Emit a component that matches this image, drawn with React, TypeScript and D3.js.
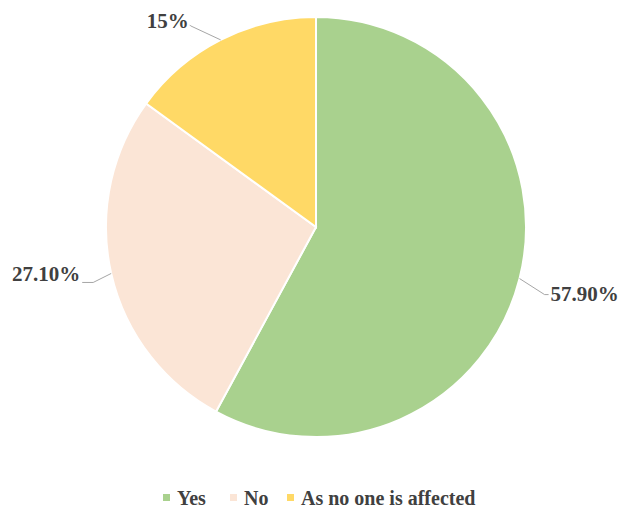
import React from "react";
import * as d3 from "d3";

const categories = ["Yes", "No", "As no one is affected"];
const values = [57.9, 27.1, 15];
const labels = ["57.90%", "27.10%", "15%"];
const colors = ["#A9D18E", "#FBE5D6", "#FFD966"];

const W = 627;
const H = 508;
const cx = 316;
const cy = 227;
const R = 210;

export default function App() {
  const pie = d3.pie<number>().sort(null).value((d) => d)(values);
  const arc = d3.arc<d3.PieArcDatum<number>>().innerRadius(0).outerRadius(R);
  const font = "'Liberation Serif', 'Times New Roman', serif";

  const layouts = [
    { elbow: [25, 16], end: [29, 16], anchor: "start", tx: 31, ty: 22 },
    { elbow: [-18, 9], end: [-29, 9], anchor: "end", tx: -31, ty: 8 },
    { elbow: [-30, -14], end: [-31, -15], anchor: "end", tx: -32, ty: -12 },
  ];

  const legendItems = [{ x: 163 }, { x: 230 }, { x: 287 }];

  return (
    <svg width={W} height={H} style={{ position: "absolute", left: 0, top: 0, background: "#fff" }}>
      <g transform={`translate(${cx},${cy})`}>
        {pie.map((p, i) => (
          <path key={i} d={arc(p) || ""} fill={colors[i]} stroke="#fff" strokeWidth={2} />
        ))}
        {pie.map((p, i) => {
          const a = (p.startAngle + p.endAngle) / 2;
          const ex = R * Math.sin(a);
          const ey = -R * Math.cos(a);
          const L = layouts[i];
          const pts = [
            [ex, ey],
            [ex + L.elbow[0], ey + L.elbow[1]],
            [ex + L.end[0], ey + L.end[1]],
          ];
          return (
            <g key={"l" + i}>
              <polyline
                points={pts.map((q) => q.join(",")).join(" ")}
                fill="none"
                stroke="#a6a6a6"
                strokeWidth={1}
              />
              <text
                x={ex + L.tx}
                y={ey + L.ty}
                textAnchor={L.anchor as any}
                fontFamily={font}
                fontWeight="bold"
                fontSize={21}
                fill="#404040"
              >
                {labels[i]}
              </text>
            </g>
          );
        })}
      </g>
      {categories.map((c, i) => (
        <g key={"lg" + i} transform={`translate(${legendItems[i].x},494)`}>
          <rect x={0} y={0} width={7} height={7} fill={colors[i]} />
          <text x={14} y={11} fontFamily={font} fontWeight="bold" fontSize={20} fill="#404040">
            {c}
          </text>
        </g>
      ))}
    </svg>
  );
}
